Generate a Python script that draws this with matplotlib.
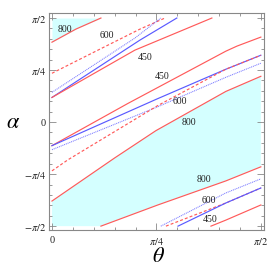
import numpy as np
import matplotlib.pyplot as plt

# contour lines, (theta, alpha) in degrees
# red solid = model A, red dashed = model B, blue solid = model C, blue dotted = model D
th_800_top = [0, 10.3, 21.1]
al_800_top = [69.1, 80.4, 90]

th_rd_up = [0, 18.9, 37.9, 48.7]
al_rd_up = [42.2, 61.3, 80.4, 90]
th_bd_up = [0, 35.7, 46.9]
al_bd_up = [25.7, 72.6, 90]
th_bs_up = [0, 37.9, 53.8]
al_bs_up = [21.3, 70.9, 90]
th_rs_up = [0, 35.7, 68.9]
al_rs_up = [21.3, 62.2, 90]

th_rs_mid = [0, 32.7, 74.9, 79.7, 90]
al_rs_mid = [-20.4, 16.1, 61.3, 65.7, 73.5]
th_bs_mid = [0, 44.8, 74.9, 90]
al_bs_mid = [-20.4, 19.6, 45.7, 57.8]
th_bd_mid = [0, 44.8, 74.9, 90]
al_bd_mid = [-23.9, 12.6, 38.7, 50.9]
th_rd_mid = [0, 6.9, 45.6, 74.9, 90]
al_rd_mid = [-42.2, -32.6, 14.3, 45.7, 57.8]

th_800_mid = [0, 27.1, 44.8, 74.9, 90]
al_800_mid = [-68.3, -30.9, -7.4, 26.5, 39.6]
th_800_low = [21.1, 45.6, 74.9, 90]
al_800_low = [-90, -71.7, -50.9, -38.7]

th_bd_low = [46.9, 74.9, 90]
al_bd_low = [-90, -61.3, -49.1]
th_rd_low = [49.1, 74.9, 90]
al_rd_low = [-90, -70.0, -57.0]
th_bs_low = [54.3, 74.9, 90]
al_bs_low = [-90, -70.0, -57.0]
th_rs_low = [68.5, 74.9, 90]
al_rs_low = [-90, -84.8, -71.7]

# contour labels: text, theta, alpha (degrees)
labels = ['800', '600', '450', '450', '600', '800', '800', '600', '450']
lab_th = [5.6, 23.7, 40.1, 47.4, 55.1, 59.0, 65.4, 67.6, 68.1]
lab_al = [80.4, 75.2, 56.2, 39.8, 18.2, 0, -50.0, -68.2, -84.6]

red = '#ff5a5a'
blue = '#5a5aff'
cyan = '#d4ffff'

plt.rcParams['font.family'] = ['Liberation Serif', 'DejaVu Serif']
plt.rcParams['mathtext.fontset'] = 'stix'

fig = plt.figure(figsize=(2.72, 2.72), dpi=100)
ax = fig.add_axes([0.180, 0.154, 0.790, 0.798])

r = np.radians

# shaded regions
ax.fill_between(r(th_800_top), r(al_800_top), np.pi/2, color=cyan, lw=0)
poly_x = np.concatenate([th_800_mid, th_800_low[::-1], [0]])
poly_y = np.concatenate([al_800_mid, al_800_low[::-1], [-90]])
ax.fill(r(poly_x), r(poly_y), color=cyan, lw=0)

def line(th, al, kind):
    if kind == 'rs':
        ax.plot(r(th), r(al), color=red, lw=0.85)
    elif kind == 'rd':
        ax.plot(r(th), r(al), color=red, lw=0.85, ls=(0, (2.5, 1.8)))
    elif kind == 'bs':
        ax.plot(r(th), r(al), color=blue, lw=0.85)
    else:
        ax.plot(r(th), r(al), color=blue, lw=0.75, ls=(0, (1, 0.8)), alpha=0.8)

line(th_800_top, al_800_top, 'rs')
line(th_rd_up, al_rd_up, 'rd')
line(th_bd_up, al_bd_up, 'bd')
line(th_bs_up, al_bs_up, 'bs')
line(th_rs_up, al_rs_up, 'rs')
line(th_rs_mid, al_rs_mid, 'rs')
line(th_bs_mid, al_bs_mid, 'bs')
line(th_bd_mid, al_bd_mid, 'bd')
line(th_rd_mid, al_rd_mid, 'rd')
line(th_800_mid, al_800_mid, 'rs')
line(th_800_low, al_800_low, 'rs')
line(th_bd_low, al_bd_low, 'bd')
line(th_rd_low, al_rd_low, 'rd')
line(th_bs_low, al_bs_low, 'bs')
line(th_rs_low, al_rs_low, 'rs')

for s, t, a in zip(labels, lab_th, lab_al):
    ax.text(r(t), r(a), s, fontsize=7, ha='center', va='center', color='#222222')

ax.set_xlim(-0.0225, np.pi/2 + 0.0225)
ax.set_ylim(-np.pi/2 - 0.06, np.pi/2 + 0.075)

ax.set_xticks([0, np.pi/4, np.pi/2])
ax.set_xticklabels(['0', r'$\pi/4$', r'$\pi/2$'])
ax.set_yticks([-np.pi/2, -np.pi/4, 0, np.pi/4, np.pi/2])
ax.set_yticklabels([r'$-\pi/2$', r'$-\pi/4$', '0', r'$\pi/4$', r'$\pi/2$'])
ax.set_xticks(np.arange(11) * np.pi/20, minor=True)
ax.set_yticks(np.arange(-10, 11) * np.pi/20, minor=True)

ax.tick_params(which='both', direction='in', top=True, right=True, colors='#888888',
               labelcolor='#222222', labelsize=7.5)
ax.tick_params(which='major', length=5, width=0.6)
ax.tick_params(which='minor', length=2.5, width=0.6)
ax.tick_params(axis='x', pad=4)
ax.tick_params(axis='y', pad=2)
for sp in ax.spines.values():
    sp.set_color('#888888')
    sp.set_linewidth(0.8)

fig.text(13/272, 1 - 123/272, r'$\alpha$', fontsize=16, ha='center', va='center')
fig.text(158/272, 1 - 258/272, r'$\theta$', fontsize=16, ha='center', va='center')

plt.savefig('out.png', dpi=100)
